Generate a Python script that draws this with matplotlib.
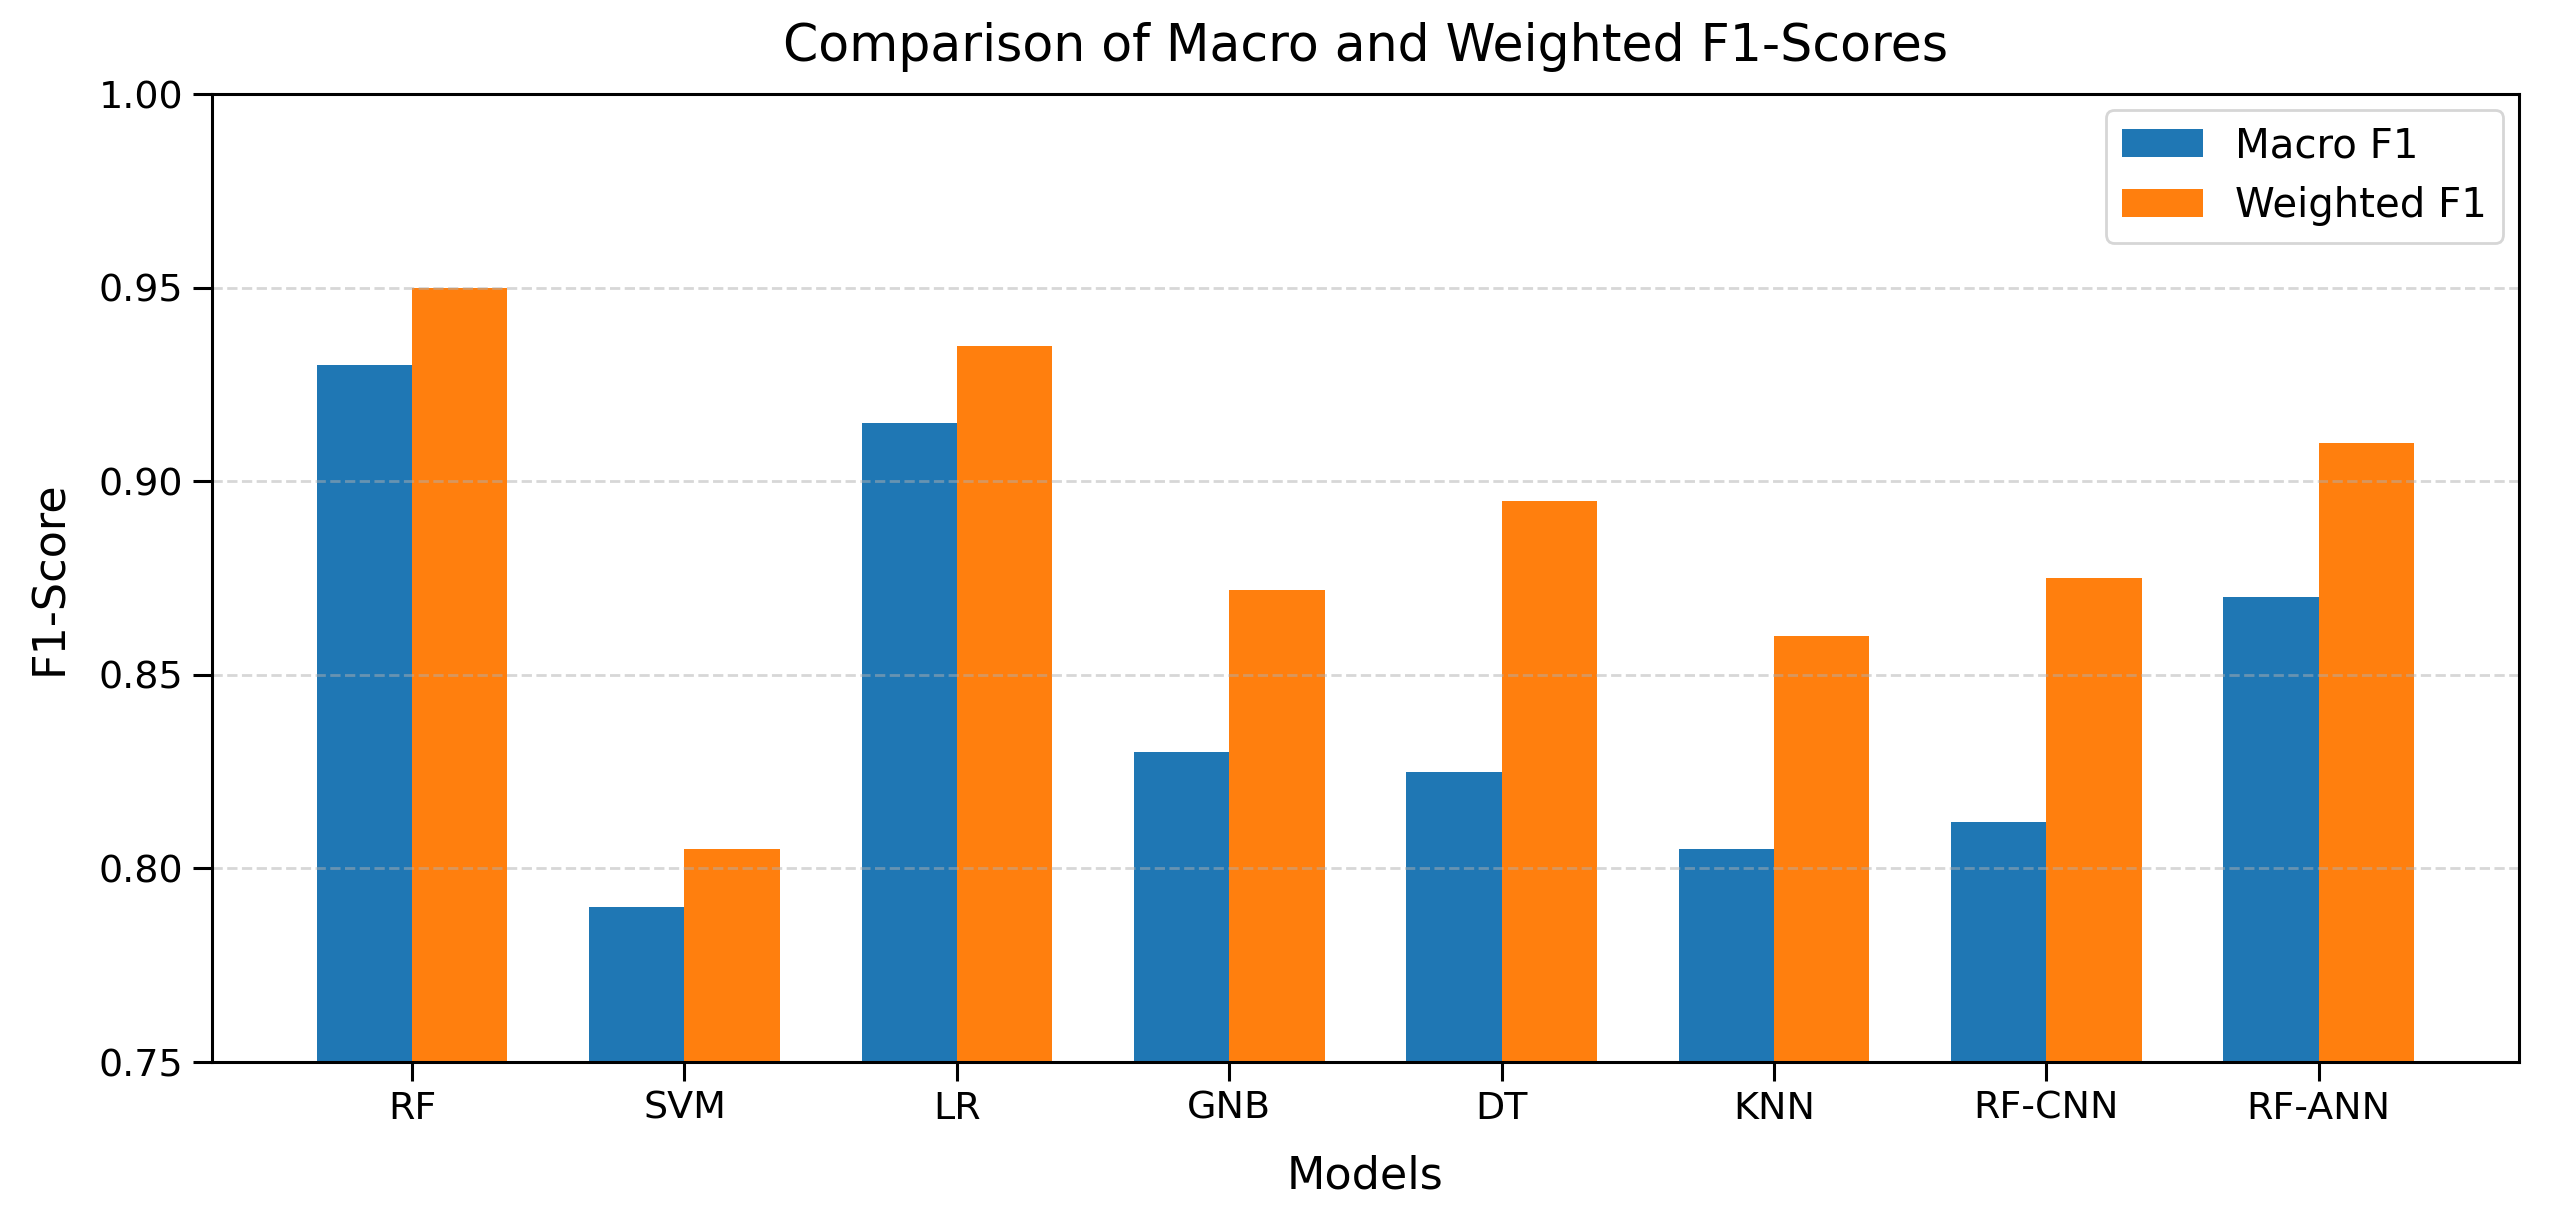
import numpy as np
import matplotlib
matplotlib.use("Agg")
import matplotlib.pyplot as plt

# Data
models = ["RF", "SVM", "LR", "GNB", "DT", "KNN", "RF-CNN", "RF-ANN"]
macro_f1 = [0.930, 0.790, 0.915, 0.830, 0.825, 0.805, 0.812, 0.870]
weighted_f1 = [0.950, 0.805, 0.935, 0.872, 0.895, 0.860, 0.875, 0.910]

x = np.arange(len(models))
width = 0.35

fig, ax = plt.subplots(figsize=(12.75, 6.075), dpi=200)

ax.bar(x - width / 2, macro_f1, width, label="Macro F1")
ax.bar(x + width / 2, weighted_f1, width, label="Weighted F1")

ax.set_xticks(x)
ax.set_xticklabels(models)
ax.set_ylim(0.75, 1.0)
ax.set_yticks([0.75, 0.80, 0.85, 0.90, 0.95, 1.00])
ax.tick_params(axis="both", labelsize=13.7, length=6.8, width=1.1)

for spine in ax.spines.values():
    spine.set_linewidth(1.1)

ax.set_xlabel("Models", fontsize=16, labelpad=10)
ax.set_ylabel("F1-Score", fontsize=16, labelpad=10)
ax.set_title("Comparison of Macro and Weighted F1-Scores", fontsize=18.2, pad=12)

ax.grid(axis="y", linestyle="--", linewidth=1.0, alpha=0.5)
ax.legend(loc="upper right", fontsize=14.5, borderaxespad=0.4)

fig.subplots_adjust(left=0.0831, right=0.9878, top=0.9226, bottom=0.1259)
fig.savefig("out.png", dpi=200)
